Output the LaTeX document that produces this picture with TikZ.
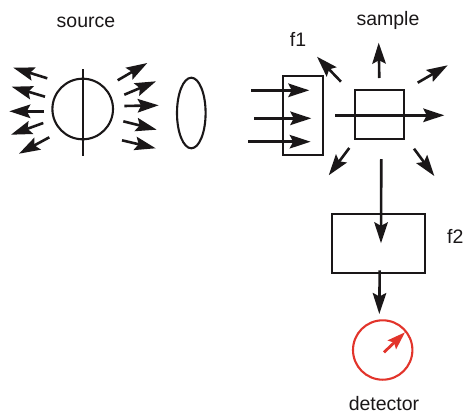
\documentclass[tikz,border=0pt]{standalone}
\usepackage{fontspec}
\setmainfont{Liberation Sans}
\usetikzlibrary{arrows.meta}
\definecolor{ink}{HTML}{1A1718}
\definecolor{redd}{HTML}{E2342B}
\tikzset{
 lbl/.style={text=ink,font=\fontsize{19.5}{22}\selectfont,inner sep=0pt,anchor=center},
 ray/.style={draw=ink,line width=2.6pt,-{Stealth[length=21pt,width=13.5pt,inset=3.5pt]}},
 box/.style={draw=ink,line width=2.1pt,fill=none,inner sep=0pt,outer sep=0pt},
 needle/.style={draw=redd,line width=2.8pt,-{Stealth[length=18pt,width=12pt,inset=3pt]}},
}
\newcommand{\ray}[4][ray]{\coordinate (#2a) at (#3);\coordinate (#2b) at (#4);\draw[#1] (#2a) -- (#2b);}
\begin{document}
\begin{tikzpicture}[x=1pt,y=-1pt]
\useasboundingbox (0,0) rectangle (464,413);
% labels
\node[lbl] (source) at (86,22) {source};
\node[lbl] (sample) at (388,20) {sample};
\node[lbl] (fone) at (298,39) {f1};
\node[lbl] (ftwo) at (455.3,236.7) {f2};
\node[lbl] (detector) at (384,403.3) {detector};
% source
\node[box,circle,minimum size=60.6pt] (lamp) at (82.7,109) {};
\coordinate (filT) at (83.3,69);
\coordinate (filB) at (83.3,155.7);
\draw[ink,line width=2.3pt] (filT) -- (filB);
\ray{l1}{47.3,78.3}{13.3,67.7}
\ray{l2}{45,96.7}{11.7,86.7}
\ray{l3}{44,111.3}{9.3,111.3}
\ray{l4}{43.3,123}{11,134.7}
\ray{l5}{49.3,137.3}{19,153.7}
\ray{r1}{117.7,80.3}{147.3,63}
\ray{r2}{124.3,94.7}{156,81.3}
\ray{r3}{124.3,106}{158.7,105.3}
\ray{r4}{123.3,121.3}{156.7,129.7}
\ray{r5}{122,140.3}{155.7,148.3}
% lens
\draw[ink,line width=2.1pt] (191.3,113) ellipse [x radius=14.3,y radius=35.3];
% f1
\node[box,line width=1.8pt,minimum width=39.7pt,minimum height=78.4pt] (filterone) at (302.85,115.5) {};
\ray{i1}{251,90.3}{309.3,90.3}
\ray{i2}{254,118.3}{311.3,118.3}
\ray{i3}{248,141.7}{310.7,141.7}
% sample
\node[box,minimum width=49.3pt,minimum height=49pt] (cell) at (379.65,114.5) {};
\ray{s0}{335,115.3}{444.3,115.3}
\ray{s1}{341,81.7}{317,56.7}
\ray{s2}{379.3,78}{378.7,42.7}
\ray{s3}{417.7,82.7}{447.7,65.3}
\ray{s4}{349.3,148}{328.7,175.3}
\ray{s5}{414,148.7}{434.3,176}
\ray{s6}{381.3,159}{381,243.3}
% f2
\node[box,minimum width=93pt,minimum height=59pt] (filtertwo) at (378.8,243.8) {};
\ray{d1}{379.7,270.3}{379.3,314}
% detector
\node[draw=redd,line width=2.1pt,circle,minimum size=59.4pt,inner sep=0pt,outer sep=0pt] (meter) at (382.7,350) {};
\ray[needle]{n1}{384,352.3}{405,332.3}
\end{tikzpicture}
\end{document}
